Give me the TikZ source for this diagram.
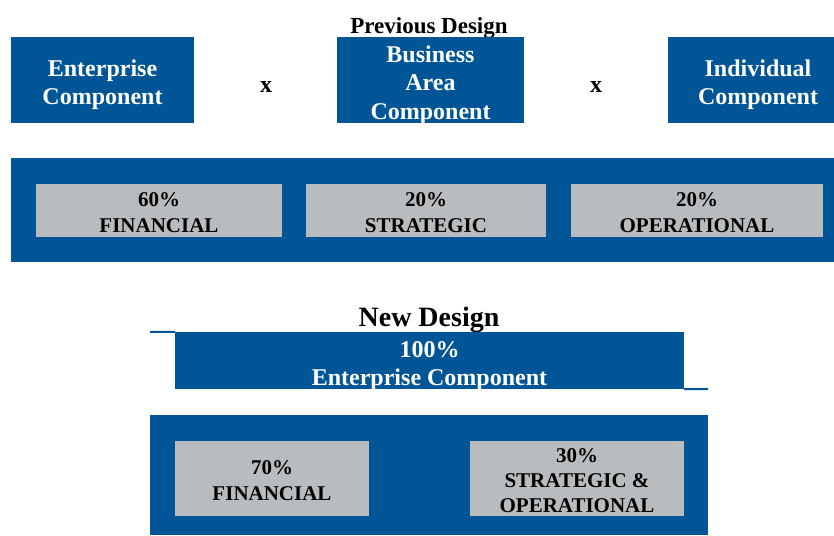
\documentclass[tikz,border=0pt]{standalone}
\usepackage{fontspec}
\setmainfont{Liberation Serif}
\definecolor{dblue}{RGB}{0,85,150}
\definecolor{lgray}{RGB}{185,188,191}
\begin{document}
\begin{tikzpicture}[x=1pt,y=-1pt,
  bluebox/.style={fill=dblue,draw=none,inner sep=0pt},
  graybox/.style={fill=lgray,draw=none,inner sep=0pt},
  btext/.style={inner sep=0pt,align=center,text=white,
    font=\fontsize{24}{28.5}\selectfont\bfseries},
  gtext/.style={inner sep=0pt,align=center,text=black,
    font=\fontsize{21}{25.5}\selectfont\bfseries},
  title/.style={inner sep=0pt,font=\fontsize{23}{26}\selectfont\bfseries},
  timesmark/.style={inner sep=0pt,font=\fontsize{24}{26}\selectfont\bfseries},
  tick/.style={draw=dblue,line width=2pt}]
\useasboundingbox (0,0) rectangle (834,535);
% Previous design
\node[title] (prev) at (429,28) {Previous Design};
\node[bluebox,minimum width=183pt,minimum height=86pt] (ent) at (102.5,80) {};
\node[btext] (entt) at ([yshift=-4.5pt]ent.center) {Enterprise\\Component};
\node[bluebox,minimum width=187pt,minimum height=86pt] (bus) at (430.5,80) {};
\node[btext] (bust) at ([yshift=-5pt]bus.center) {Business\\Area\\Component};
\node[bluebox,minimum width=166pt,minimum height=86pt] (ind) at (751,80) {};
\node[btext] (indt) at ([xshift=7pt,yshift=-4.5pt]ind.center) {Individual\\Component};
\node[timesmark] (xa) at (266,87) {x};
\node[timesmark] (xb) at (596,87) {x};
\node[fill=dblue,inner sep=0pt,minimum width=823pt,minimum height=104pt] (band) at (422.5,210) {};
\node[graybox,minimum width=246pt,minimum height=53pt] (g1) at (159,210.5) {};
\node[gtext] (g1t) at ([yshift=-2pt]g1.center) {60\%\\FINANCIAL};
\node[graybox,minimum width=240pt,minimum height=53pt] (g2) at (426,210.5) {};
\node[gtext] (g2t) at ([yshift=-2pt]g2.center) {20\%\\STRATEGIC};
\node[graybox,minimum width=252pt,minimum height=53pt] (g3) at (697,210.5) {};
\node[gtext] (g3t) at ([yshift=-2pt]g3.center) {20\%\\OPERATIONAL};
% New design
\node[title,font=\fontsize{28}{30}\selectfont\bfseries] (newd) at (429,320) {New Design};
\node[bluebox,minimum width=509pt,minimum height=57pt] (hdr) at (429.5,360.5) {};
\node[btext,font=\fontsize{24}{28}\selectfont\bfseries] (hdrt) at ([yshift=-6pt]hdr.center) {100\%\\Enterprise Component};
\coordinate (tl) at (150,332);
\coordinate (br) at (708,389);
\draw[tick] (tl) -- (hdr.north west);
\draw[tick] (hdr.south east) -- (br);
\node[fill=dblue,inner sep=0pt,minimum width=558pt,minimum height=120pt] (low) at (429,475) {};
\node[graybox,minimum width=194pt,minimum height=75pt] (h1) at (272,478.5) {};
\node[gtext] (h1t) at ([yshift=-2pt]h1.center) {70\%\\FINANCIAL};
\node[graybox,minimum width=214pt,minimum height=75pt] (h2) at (577,478.5) {};
\node[gtext,font=\fontsize{21}{25}\selectfont\bfseries] (h2t) at ([yshift=-2.5pt]h2.center) {30\%\\STRATEGIC \&\\OPERATIONAL};
\end{tikzpicture}
\end{document}
